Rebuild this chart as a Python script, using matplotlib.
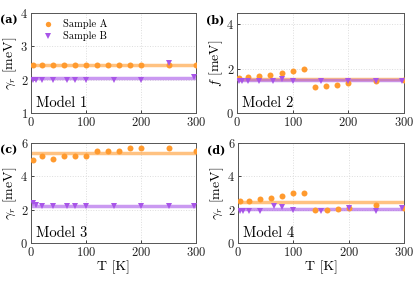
import matplotlib
matplotlib.use("Agg")
import matplotlib.pyplot as plt

plt.rcParams['font.family'] = ['cmr10', 'DejaVu Serif']
plt.rcParams['mathtext.fontset'] = 'cm'
plt.rcParams['axes.formatter.use_mathtext'] = True

# temperatures
T_A = [4, 20, 40, 60, 80, 100, 120, 140, 160, 180, 200, 250, 300]
T_B = [4, 9, 20, 40, 65, 80, 100, 150, 200, 250, 297]

# Model 1 (gamma_r)
m1_A = [2.43, 2.43, 2.43, 2.43, 2.43, 2.43, 2.43, 2.43, 2.43, 2.43, 2.43, 2.43, 2.43]
m1_B = [2.0, 1.98, 2.0, 2.0, 2.0, 2.0, 2.0, 2.0, 2.0, 2.5, 2.07]
m1_fitA, m1_fitB = 2.43, 2.04

# Model 2 (f)
m2_A = [1.59, 1.62, 1.68, 1.71, 1.78, 1.90, 1.98, 1.17, 1.23, 1.27, 1.33, 1.44, 1.47]
m2_B = [1.45, 1.42, 1.45, 1.45, 1.45, 1.55, 1.45, 1.45, 1.45, 1.45, 1.45]
m2_fitA, m2_fitB = 1.55, 1.48

# Model 3 (gamma_r)
m3_A = [4.96, 5.2, 5.02, 5.2, 5.2, 5.2, 5.51, 5.51, 5.51, 5.69, 5.69, 5.69, 5.51]
m3_B = [2.4, 2.28, 2.2, 2.2, 2.2, 2.2, 2.2, 2.2, 2.2, 2.2, 2.2]
m3_fitA, m3_fitB = 5.38, 2.2

# Model 4 (gamma_r)
m4_A = [2.5, 2.53, 2.65, 2.71, 2.81, 2.99, 2.99, 1.96, 1.96, 2.02, 2.1, 2.28, 2.1]
m4_B = [1.92, 1.9, 1.92, 1.92, 2.22, 2.16, 2.0, 1.92, 2.1, 1.92, 2.1]
m4_fitA, m4_fitB = 2.44, 2.02

panels = [
    ("(a)", "Model 1", r"$\gamma_r$ [meV]", m1_A, m1_B, m1_fitA, m1_fitB, (1, 4), [1, 2, 3, 4]),
    ("(b)", "Model 2", r"$f$ [meV]", m2_A, m2_B, m2_fitA, m2_fitB, (0, 4.5), [0, 2, 4]),
    ("(c)", "Model 3", r"$\gamma_r$ [meV]", m3_A, m3_B, m3_fitA, m3_fitB, (0, 6), [0, 2, 4, 6]),
    ("(d)", "Model 4", r"$\gamma_r$ [meV]", m4_A, m4_B, m4_fitA, m4_fitB, (0, 6), [0, 2, 4, 6]),
]

positions = [
    [31/416, 1-113/305, 165/416, 100/305],
    [237/416, 1-113/305, 167/416, 100/305],
    [31/416, 1-243/305, 165/416, 100/305],
    [238/416, 1-243/305, 166/416, 100/305],
]

cA = '#FF9A2E'
cB = '#A855E8'

fig = plt.figure(figsize=(4.16, 3.05), dpi=100)
for i, (lab, model, ylab, A, B, fA, fB, ylim, yt) in enumerate(panels):
    ax = fig.add_axes(positions[i])
    ax.plot([0, 300], [fA, fA], color=cA, lw=2.5, alpha=0.6, zorder=2)
    ax.plot([0, 300], [fB, fB], color=cB, lw=2.5, alpha=0.6, zorder=2)
    ax.plot(T_A, A, 'o', color=cA, ms=4.3, mew=0, label='Sample A', zorder=3)
    ax.plot(T_B, B, 'v', color=cB, ms=4.5, mew=0, label='Sample B', zorder=3)
    ax.set_xlim(0, 300)
    ax.set_ylim(*ylim)
    ax.set_xticks([0, 100, 200, 300])
    ax.set_yticks(yt)
    ax.grid(True, color='#dddddd', ls=':', lw=0.7)
    ax.tick_params(direction='in', labelsize=9, length=2.5, width=0.6, colors='#222222', pad=2)
    for s in ax.spines.values():
        s.set_color('#555555')
        s.set_linewidth(0.7)
    ax.set_ylabel(ylab, fontsize=10, labelpad=1)
    if i >= 2:
        ax.set_xlabel('T [K]', fontsize=10, labelpad=1)
    ax.text(0.03, 0.03, model, transform=ax.transAxes, fontsize=10.5, ha='left', va='bottom')
    ax.text(-0.188, 0.935, lab, transform=ax.transAxes, fontsize=8, fontweight='bold',
            ha='left', va='center', family=['DejaVu Serif'])
    if i == 0:
        ax.legend(loc='upper left', frameon=False, fontsize=7.5, handletextpad=0.5,
                  borderaxespad=0.2, labelspacing=0.2, handlelength=2.0, markerscale=0.9)

fig.savefig('out.png', dpi=100)
